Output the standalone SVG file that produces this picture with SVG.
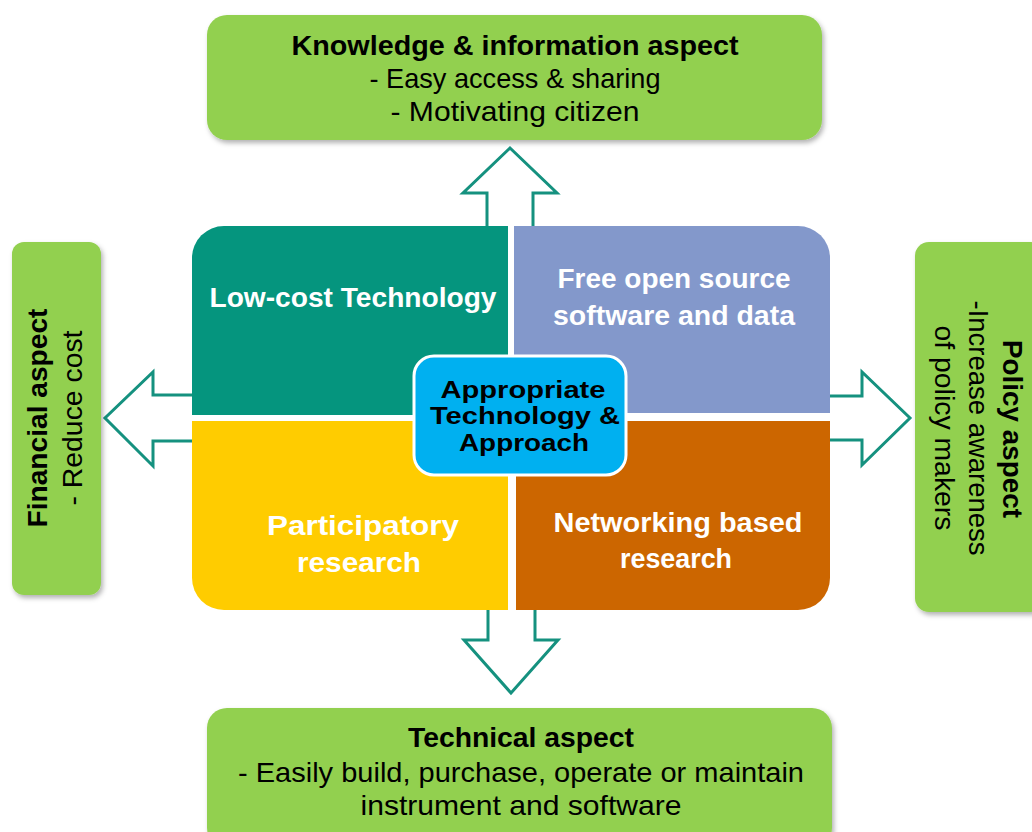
<svg xmlns="http://www.w3.org/2000/svg" width="1032" height="832" viewBox="0 0 1032 832">
<defs>
<filter id="sh" x="-10%" y="-10%" width="130%" height="130%">
<feDropShadow dx="2" dy="3" stdDeviation="2.5" flood-color="#000" flood-opacity="0.3"/>
</filter>
</defs>
<style>
.aspect{fill:#92D050;filter:url(#sh)}
.t{font-family:"Liberation Sans",Arial,sans-serif;font-size:28px;text-anchor:middle;fill:#000}
.b{font-weight:bold}
.w{fill:#fff;font-weight:bold;font-size:27px}
.c{font-weight:bold;font-size:24px}
.arr{fill:#fff;stroke:#15917F;stroke-width:3;stroke-linejoin:miter}
</style>
<rect width="1032" height="832" fill="#fff"/>
<g id="connectors">
<polyline class="arr" points="487,228 487,193 463,193 510,148 557,193 533,193 533,228"/>
<polyline class="arr" points="488,608 488,640 464,640 511,693 558,640 535,640 535,608"/>
<polyline class="arr" points="194,395 153,395 153,372 105,418 153,466 153,441 194,441"/>
<polyline class="arr" points="828,396 862,396 862,372 910,418 862,465 862,440 828,440"/>
</g>
<g id="knowledge">
<rect class="aspect" x="207" y="15" width="615" height="125" rx="20"/>
<text class="t b" x="515" y="55" textLength="447" lengthAdjust="spacingAndGlyphs">Knowledge &amp; information aspect</text>
<text class="t" x="515" y="88" textLength="291" lengthAdjust="spacingAndGlyphs">- Easy access &amp; sharing</text>
<text class="t" x="515" y="121" textLength="249" lengthAdjust="spacingAndGlyphs">- Motivating citizen</text>
</g>
<g id="technical">
<rect class="aspect" x="207" y="708" width="625" height="140" rx="20"/>
<text class="t b" x="521" y="747" textLength="226" lengthAdjust="spacingAndGlyphs">Technical aspect</text>
<text class="t" x="521" y="782" textLength="566" lengthAdjust="spacingAndGlyphs">- Easily build, purchase, operate or maintain</text>
<text class="t" x="521" y="815" textLength="321" lengthAdjust="spacingAndGlyphs">instrument and software</text>
</g>
<g id="financial">
<rect class="aspect" x="12" y="242" width="89" height="353" rx="12"/>
<text class="t b" transform="translate(47,418) rotate(-90)" textLength="219" lengthAdjust="spacingAndGlyphs">Financial aspect</text>
<text class="t" transform="translate(82,418) rotate(-90)" textLength="175" lengthAdjust="spacingAndGlyphs">- Reduce cost</text>
</g>
<g id="policy">
<rect class="aspect" x="915" y="242" width="130" height="370" rx="14"/>
<text class="t b" transform="translate(1003,429) rotate(90)" textLength="178" lengthAdjust="spacingAndGlyphs">Policy aspect</text>
<text class="t" transform="translate(969,428) rotate(90)" textLength="255" lengthAdjust="spacingAndGlyphs">-Increase awareness</text>
<text class="t" transform="translate(935,428) rotate(90)" textLength="205" lengthAdjust="spacingAndGlyphs">of policy makers</text>
</g>
<g id="lowcost">
<path d="M192,415 V258 A32,32 0 0 1 224,226 H508 V415 Z" fill="#05957E"/>
<text class="t w" x="353" y="307" textLength="287" lengthAdjust="spacingAndGlyphs">Low-cost Technology</text>
</g>
<g id="foss">
<path d="M514,226 H798 A32,32 0 0 1 830,258 V413 H514 Z" fill="#8398CB"/>
<text class="t w" x="674" y="288" textLength="233" lengthAdjust="spacingAndGlyphs">Free open source</text>
<text class="t w" x="674" y="325" textLength="242" lengthAdjust="spacingAndGlyphs">software and data</text>
</g>
<g id="participatory">
<path d="M192,421 H508 V610 H224 A32,32 0 0 1 192,578 Z" fill="#FFCC00"/>
<text class="t w" x="363" y="535" textLength="192" lengthAdjust="spacingAndGlyphs">Participatory</text>
<text class="t w" x="359" y="572" textLength="124" lengthAdjust="spacingAndGlyphs">research</text>
</g>
<g id="networking">
<path d="M516,421 H830 V578 A32,32 0 0 1 798,610 H516 Z" fill="#CC6600"/>
<text class="t w" x="678" y="532" textLength="249" lengthAdjust="spacingAndGlyphs">Networking based</text>
<text class="t w" x="676" y="568" textLength="112" lengthAdjust="spacingAndGlyphs">research</text>
</g>
<g id="center">
<rect x="414" y="356" width="212" height="119" rx="20" fill="#00B0F0" stroke="#fff" stroke-width="3"/>
<text class="t c" x="523" y="398" textLength="165" lengthAdjust="spacingAndGlyphs">Appropriate</text>
<text class="t c" x="525" y="424" textLength="190" lengthAdjust="spacingAndGlyphs">Technology &amp;</text>
<text class="t c" x="524" y="451" textLength="130" lengthAdjust="spacingAndGlyphs">Approach</text>
</g>
</svg>
